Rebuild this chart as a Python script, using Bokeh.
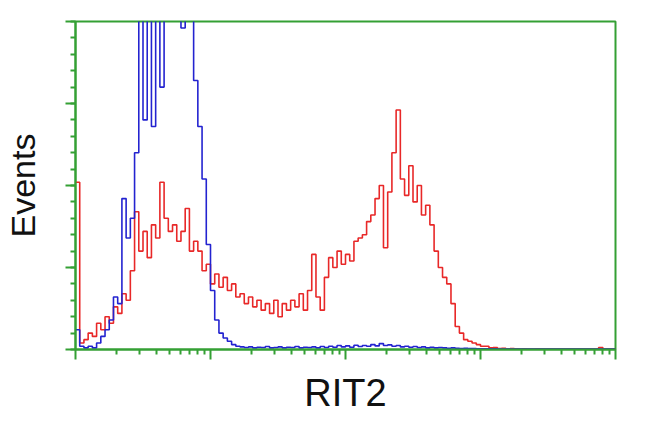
from bokeh.plotting import figure
from bokeh.models import Range1d, FixedTicker
from bokeh.embed import file_html
from bokeh.resources import INLINE

# Histogram channels: 128 log-spaced bins spanning 10^0 .. 10^4
n_bins = 128
decades = 4

red_counts = [
    51, 2, 3, 5, 4, 8, 6, 10, 8, 13, 11, 17, 15, 24, 42, 30,
    36, 28, 38, 34, 51, 40, 36, 38, 33, 36, 43, 30, 33, 30, 24, 26,
    20, 23, 19, 22, 18, 20, 16, 17, 14, 16, 13, 15, 12, 14, 11, 15,
    10, 14, 12, 15, 13, 17, 12, 18, 29, 16, 12, 22, 28, 25, 30, 26,
    29, 27, 33, 34, 35, 39, 41, 46, 50, 31, 48, 60, 73, 52, 47, 56,
    45, 50, 41, 44, 38, 30, 25, 22, 20, 14, 7, 5, 3, 2.5, 2, 1.5,
    1, 1, 0.5, 0.6, 0.3, 0.4, 0.2, 0.3, 0.2, 0.1, 0.2, 0.1, 0.1, 0.2, 0.1, 0.1,
    0.1, 0.1, 0.1, 0.1, 0.1, 0.1, 0.1, 0.1, 0.1, 0.1, 0.1, 0.1, 0.6, 0.1, 0.1, 0.1,
]

blue_counts = [
    6, 1, 0.5, 1, 0.5, 2, 4, 6, 9, 16, 14, 46, 34, 40, 60, 150,
    70, 130, 68, 120, 80, 140, 150, 160, 150, 98, 140, 105, 82, 68, 52, 32,
    18, 9, 5, 3.5, 2.5, 1.5, 1, 0.8, 0.6, 0.8, 0.5, 0.7, 0.6, 0.9, 0.5, 0.6,
    0.8, 0.5, 0.7, 0.6, 0.9, 0.5, 0.7, 0.6, 0.8, 0.5, 0.9, 0.6, 1.0, 0.7, 1.2, 0.8,
    1.1, 0.7, 1.3, 0.9, 1.2, 1.0, 1.5, 1.1, 1.8, 1.2, 1.4, 1.0, 1.2, 0.8, 1.0, 0.7,
    0.9, 0.6, 0.8, 0.5, 0.7, 0.5, 0.6, 0.5, 0.4, 0.5, 0.4, 0.3, 0.4, 0.3, 0.3, 0.2,
    0.2, 0.2, 0.2, 0.2, 0.1, 0.1, 0.1, 0.1, 0.1, 0.1, 0.1, 0.1, 0.1, 0.1, 0.1, 0.1,
    0.1, 0.1, 0.1, 0.1, 0.1, 0.1, 0.1, 0.1, 0.1, 0.1, 0.1, 0.1, 0.1, 0.1, 0.1, 0.1,
]

x_label = "RIT2"
y_label = "Events"
y_major = [0, 25, 50, 75, 100]
y_minor = list(range(0, 101, 5))
x_major = [1, 10, 100, 1000, 10000]
x_minor = [m * 10 ** k for k in range(4) for m in range(2, 10)]

edges = [10 ** (decades * i / n_bins) for i in range(n_bins + 1)]

GREEN = "#34a034"
RED = "#e82828"
BLUE = "#2323d0"

p = figure(width=634, height=416, output_backend="svg", toolbar_location=None,
           x_axis_type="log", x_range=Range1d(1, 10 ** 4), y_range=Range1d(0, 100),
           min_border_left=75, min_border_right=19, min_border_top=21, min_border_bottom=65)

p.step(edges, red_counts + [red_counts[-1]], mode="after", line_color=RED, line_width=1.6)
p.step(edges, blue_counts + [blue_counts[-1]], mode="after", line_color=BLUE, line_width=1.6)

p.xgrid.visible = False
p.ygrid.visible = False
p.outline_line_color = GREEN
p.outline_line_width = 2
p.outline_line_alpha = 1

p.xaxis.ticker = FixedTicker(ticks=x_major, minor_ticks=x_minor)
p.yaxis.ticker = FixedTicker(ticks=y_major, minor_ticks=y_minor)

for ax in (p.xaxis[0], p.yaxis[0]):
    ax.axis_line_color = GREEN
    ax.axis_line_width = 2
    ax.major_tick_line_color = GREEN
    ax.minor_tick_line_color = GREEN
    ax.major_tick_line_width = 2
    ax.minor_tick_line_width = 2
    ax.major_tick_in = 0
    ax.minor_tick_in = 0
    ax.major_tick_out = 10
    ax.minor_tick_out = 5
    ax.major_label_text_font_size = "1px"
    ax.major_label_text_alpha = 0
    ax.major_label_standoff = 0
    ax.axis_label_text_font = "Liberation Sans"
    ax.axis_label_text_font_style = "normal"
    ax.axis_label_text_color = "#111111"

p.xaxis.axis_label = x_label
p.yaxis.axis_label = y_label
p.xaxis.axis_label_text_font_size = "38px"
p.yaxis.axis_label_text_font_size = "34px"
p.xaxis.axis_label_standoff = 12
p.yaxis.axis_label_standoff = 24

open("out.html", "w").write(file_html(p, INLINE))
